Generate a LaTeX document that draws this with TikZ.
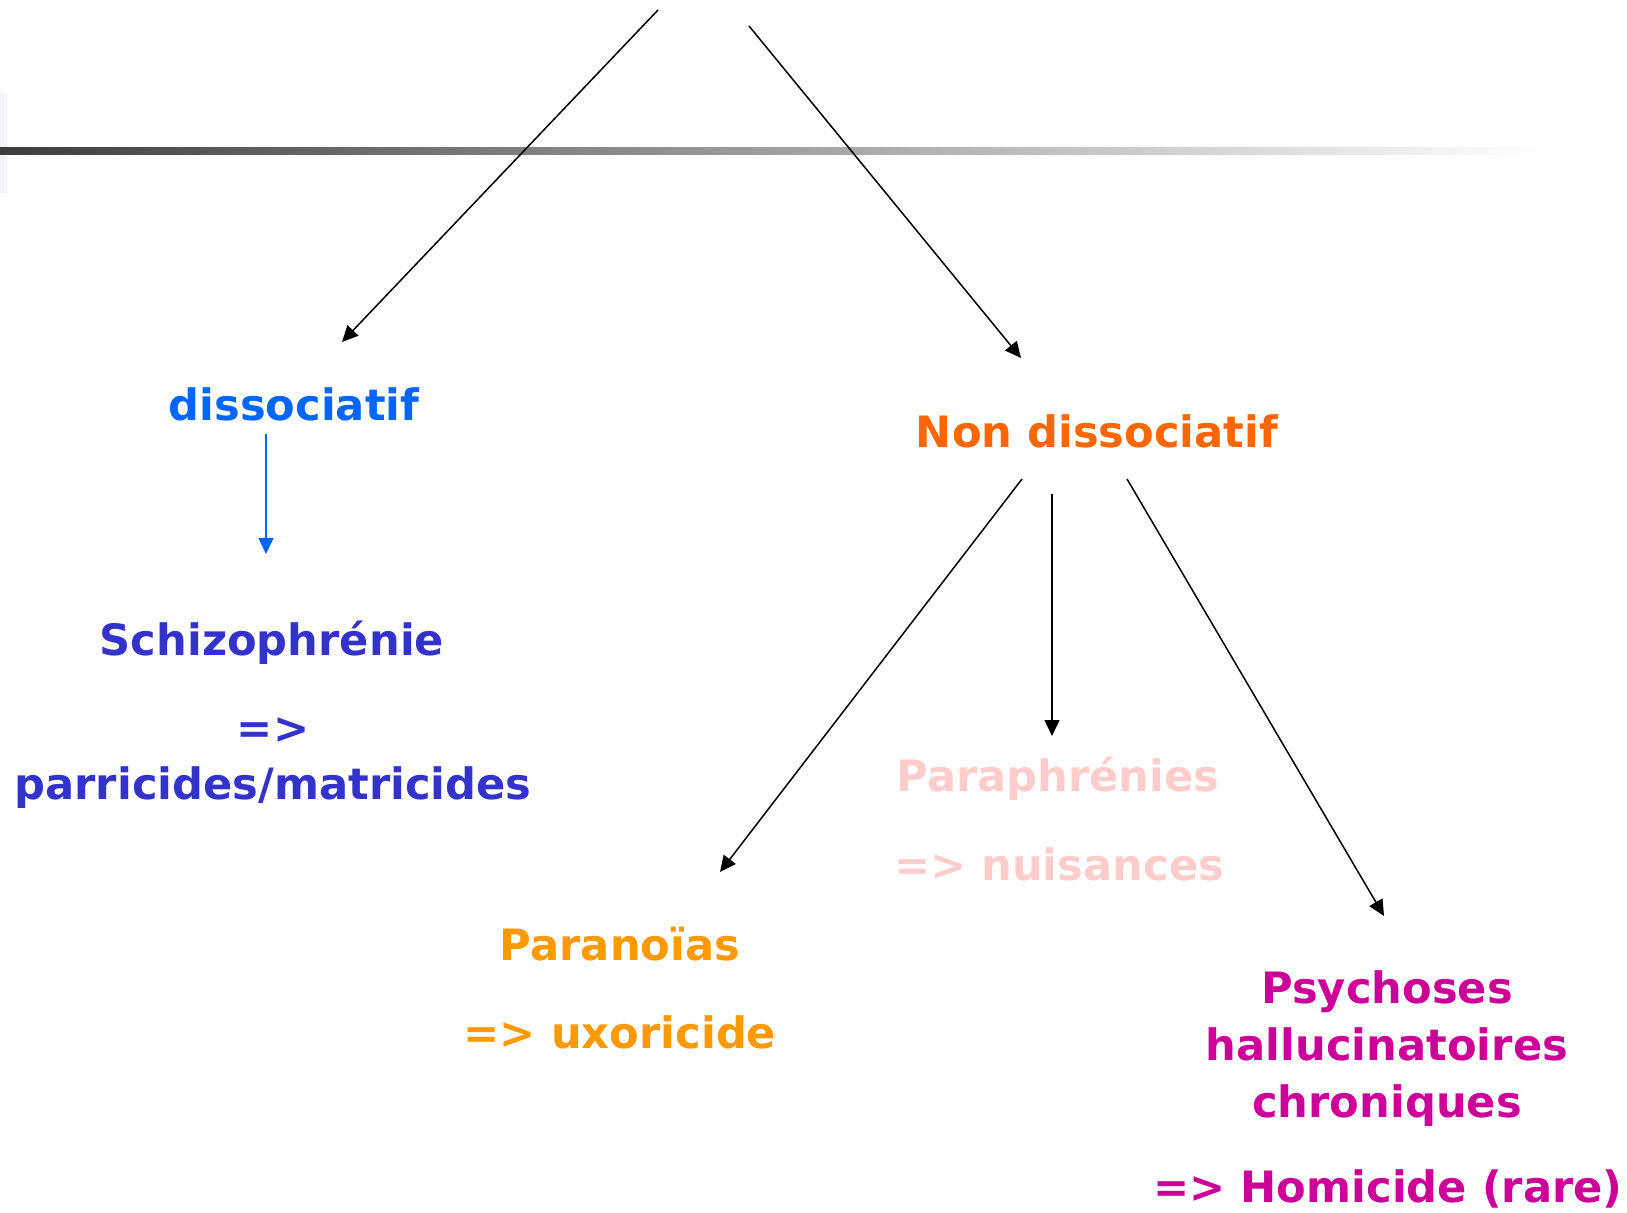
\documentclass[tikz,border=0pt]{standalone}
\usepackage{fontspec}
\setmainfont{DejaVu Sans}
\usetikzlibrary{arrows.meta}
\definecolor{dissblue}{HTML}{0066FF}
\definecolor{nondissorange}{HTML}{FF6600}
\definecolor{schizoblue}{HTML}{3333CC}
\definecolor{paraorange}{HTML}{FF9900}
\definecolor{paraphpink}{HTML}{FFCCCC}
\definecolor{psymagenta}{HTML}{CC0099}
\definecolor{sidetint}{HTML}{F3F3FA}
\tikzset{
  lbl/.style={font=\bfseries\fontsize{21.6}{28.5}\selectfont, inner sep=0pt, align=center},
  arr/.style={-{Triangle[length=8pt,width=7.5pt]}, line width=0.75pt}
}
\begin{document}
\begin{tikzpicture}[x=0.5pt,y=-0.5pt]
        \useasboundingbox (0,0) rectangle (1627,1213);
        % title bar
        \fill[sidetint] (0,93) rectangle (7,193);
        \shade[left color=black!76, middle color=black!22, right color=white] (0,148) rectangle (1540,155);
        % labels
        \node[lbl, text=dissblue] (diss) at (294,404) {dissociatif};
        \node[lbl, text=nondissorange] (nondiss) at (1097,431) {Non dissociatif};
        \node[lbl, text=schizoblue] (schizo) at (272,643) {Schizophrénie};
        \node[lbl, text=schizoblue] (schizoimp) at (273,731) {=>};
        \node[lbl, text=schizoblue] (schizores) at (273,788) {parricides/matricides};
        \node[lbl, text=paraorange] (parano) at (620,944) {Paranoïas};
        \node[lbl, text=paraorange] (paranores) at (620,1032) {=> uxoricide};
        \node[lbl, text=paraphpink] (paraph) at (1058,779) {Paraphrénies};
        \node[lbl, text=paraphpink] (paraphres) at (1059,864) {=> nuisances};
        \node[lbl, text=psymagenta] (psycho) at (1387,1049) {Psychoses\\hallucinatoires\\chroniques};
        \node[lbl, text=psymagenta] (psychores) at (1388,1189) {=> Homicide (rare)};
        % arrow ends
        \coordinate (topl) at (658,10);   \coordinate (dissin) at (342,342);
        \coordinate (topr) at (749,26);   \coordinate (nondissin) at (1021,358);
        \coordinate (dissout) at (266,434); \coordinate (schizoin) at (266,554);
        \coordinate (ndl) at (1022,479);  \coordinate (paranoin) at (720,872);
        \coordinate (ndm) at (1052,494);  \coordinate (paraphin) at (1052,736);
        \coordinate (ndr) at (1127,479);  \coordinate (psychoin) at (1384,916);
        % arrows
        \draw[arr] (topl) -- (dissin);
        \draw[arr] (topr) -- (nondissin);
        \draw[arr, dissblue] (dissout) -- (schizoin);
        \draw[arr] (ndl) -- (paranoin);
        \draw[arr] (ndm) -- (paraphin);
        \draw[arr] (ndr) -- (psychoin);
      \end{tikzpicture}
\end{document}
